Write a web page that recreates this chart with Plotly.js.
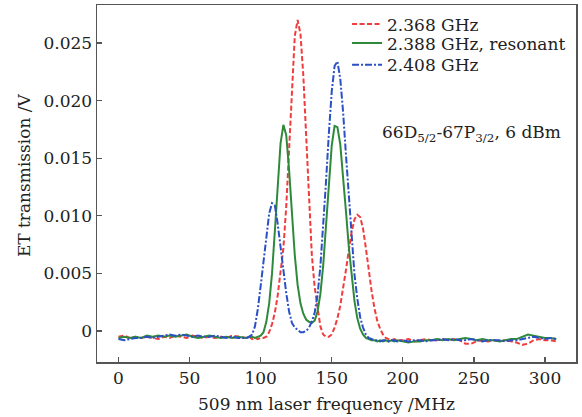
<!DOCTYPE html>
<html>
<head>
<meta charset="utf-8">
<script src="https://cdn.plot.ly/plotly-3.0.1.min.js"></script>
<style>html,body{margin:0;padding:0;background:#fff;}#chart{width:582px;height:417px;}</style>
</head>
<body>
<div id="chart"></div>
<script>
// laser frequency (MHz) sample positions
const freqMHz = [
  0,4,8,12,16,20,24,28,32,36,40,44,48,52,56,60,64,68,72,76,80,84,88,
  90,92,94,96,98,100,102,104,106,108,110,112,114,116,118,120,122,124,126,128,
  130,132,134,136,138,140,142,144,146,148,150,152,154,156,158,160,162,164,166,168,
  170,172,174,176,178,180,182,184,186,188,190,192,194,196,
  200,204,208,212,216,220,224,228,232,236,240,244,248,252,256,260,264,268,272,276,
  280,284,288,292,296,300,304,308
];

// ET transmission (V), 2.368 GHz
const red2368 = [
  -0.0005,-0.0004,-0.0006,-0.0005,-0.0006,-0.0005,-0.0006,-0.0007,-0.0005,-0.0006,-0.0004,-0.0005,-0.0006,-0.0004,-0.0005,-0.0006,-0.0005,-0.0006,-0.0005,-0.0006,-0.0004,-0.0005,-0.0006,
  -0.0006,-0.0005,-0.0007,-0.0006,-0.0007,-0.0006,-0.0006,-0.0005,-0.0001,0.0006,0.0016,0.0031,0.0050,0.0072,0.0108,0.0160,0.0215,0.0256,0.0270,0.0258,
  0.0222,0.0170,0.0112,0.0066,0.0038,0.0020,0.0004,-0.0003,-0.0005,-0.0005,-0.0003,0.0003,0.0011,0.0022,0.0036,0.0053,0.0070,0.0086,0.0097,0.0101,
  0.0099,0.0089,0.0072,0.0053,0.0035,0.0020,0.0009,0.0002,-0.0003,-0.0006,-0.0007,-0.0008,-0.0007,-0.0008,
  -0.0008,-0.0007,-0.0009,-0.0008,-0.0007,-0.0008,-0.0008,-0.0007,-0.0008,-0.0007,-0.0008,-0.0011,-0.0011,-0.0009,-0.0008,-0.0009,-0.0008,-0.0009,-0.0008,-0.0009,
  -0.0010,-0.0012,-0.0011,-0.0008,-0.0007,-0.0008,-0.0008,-0.0009
];

// ET transmission (V), 2.388 GHz, resonant
const green2388 = [
  -0.0006,-0.0005,-0.0006,-0.0005,-0.0006,-0.0004,-0.0005,-0.0004,-0.0005,-0.0004,-0.0005,-0.0004,-0.0003,-0.0005,-0.0006,-0.0005,-0.0004,-0.0005,-0.0006,-0.0005,-0.0006,-0.0005,-0.0006,
  -0.0006,-0.0005,-0.0005,-0.0006,-0.0005,-0.0004,-0.0001,0.0008,0.0024,0.0050,0.0087,0.0128,0.0163,0.0179,0.0170,0.0140,0.0100,0.0066,0.0040,0.0024,
  0.0015,0.0010,0.0008,0.0007,0.0009,0.0017,0.0032,0.0057,0.0092,0.0129,0.0161,0.0178,0.0177,0.0162,0.0136,0.0104,0.0073,0.0046,0.0026,0.0011,
  0.0002,-0.0003,-0.0006,-0.0007,-0.0008,-0.0008,-0.0009,-0.0008,-0.0009,-0.0008,-0.0009,-0.0008,-0.0009,-0.0008,
  -0.0009,-0.0010,-0.0009,-0.0009,-0.0008,-0.0008,-0.0007,-0.0008,-0.0007,-0.0008,-0.0007,-0.0006,-0.0007,-0.0008,-0.0007,-0.0008,-0.0008,-0.0009,-0.0008,-0.0007,
  -0.0007,-0.0005,-0.0003,-0.0004,-0.0005,-0.0006,-0.0006,-0.0007
];

// ET transmission (V), 2.408 GHz
const blue2408 = [
  -0.0007,-0.0008,-0.0007,-0.0006,-0.0006,-0.0005,-0.0006,-0.0005,-0.0004,-0.0003,-0.0004,-0.0003,-0.0004,-0.0005,-0.0004,-0.0005,-0.0005,-0.0004,-0.0005,-0.0006,-0.0005,-0.0006,-0.0006,
  -0.0006,-0.0005,-0.0003,0.0004,0.0019,0.0039,0.0061,0.0084,0.0102,0.0111,0.0109,0.0093,0.0072,0.0052,0.0033,0.0017,0.0007,0.0003,0.0001,-0.0001,
  -0.0001,0.0000,0.0003,0.0008,0.0016,0.0031,0.0056,0.0089,0.0130,0.0172,0.0208,0.0230,0.0234,0.0219,0.0190,0.0153,0.0115,0.0078,0.0049,0.0028,
  0.0012,0.0003,-0.0003,-0.0006,-0.0007,-0.0008,-0.0008,-0.0009,-0.0008,-0.0008,-0.0009,-0.0008,-0.0008,-0.0009,
  -0.0008,-0.0009,-0.0008,-0.0008,-0.0009,-0.0008,-0.0008,-0.0007,-0.0008,-0.0007,-0.0008,-0.0008,-0.0007,-0.0008,-0.0009,-0.0008,-0.0008,-0.0008,-0.0009,-0.0008,
  -0.0008,-0.0007,-0.0006,-0.0005,-0.0006,-0.0007,-0.0006,-0.0007
];

const seriesNames = ['2.368 GHz', '2.388 GHz, resonant', '2.408 GHz'];
const xTickVals = [0, 50, 100, 150, 200, 250, 300];
const xTickText = ['0', '50', '100', '150', '200', '250', '300'];
const yTickVals = [0, 0.005, 0.010, 0.015, 0.020, 0.025];
const yTickText = ['0', '0.005', '0.010', '0.015', '0.020', '0.025'];

const FONT = 'DejaVu Serif, serif';
const AX = '#555555';
const TXT = '#222222';

const traces = [
  {x: freqMHz, y: red2368, name: seriesNames[0], mode: 'lines', legend: 'legend',
   line: {color: '#f03c3c', width: 2, dash: '5px,2.5px'}},
  {x: freqMHz, y: green2388, name: seriesNames[1], mode: 'lines', legend: 'legend2',
   line: {color: '#2e8a3a', width: 2}},
  {x: freqMHz, y: blue2408, name: seriesNames[2], mode: 'lines', legend: 'legend3',
   line: {color: '#2b50c6', width: 2, dash: '7px,2px,2px,2px'}}
];

function legendAt(ytop) {
  return {x: 0.522, y: ytop, xanchor: 'left', yanchor: 'top',
          bgcolor: 'rgba(0,0,0,0)', borderwidth: 0,
          font: {family: FONT, size: 17, color: TXT}};
}

const layout = {
  width: 582, height: 417,
  margin: {l: 97, r: 6, t: 5, b: 55},
  paper_bgcolor: '#ffffff', plot_bgcolor: '#ffffff',
  font: {family: FONT, size: 17, color: TXT},
  showlegend: true,
  legend: legendAt(0.9958),
  legend2: legendAt(0.9426),
  legend3: legendAt(0.8816),
  xaxis: {range: [-15.1, 321.8], tickvals: xTickVals, ticktext: xTickText,
          ticks: 'inside', ticklen: 5, tickwidth: 1.2, tickcolor: AX,
          showline: true, linecolor: AX, linewidth: 1.5, mirror: true,
          showgrid: false, zeroline: false,
          tickfont: {family: FONT, size: 17, color: TXT}},
  yaxis: {range: [-0.00269, 0.0283], tickvals: yTickVals, ticktext: yTickText,
          ticks: 'inside', ticklen: 5, tickwidth: 1.2, tickcolor: AX,
          showline: true, linecolor: AX, linewidth: 1.5, mirror: true,
          showgrid: false, zeroline: false,
          tickfont: {family: FONT, size: 17, color: TXT}},
  annotations: [
    {text: '509 nm laser frequency /MHz', xref: 'paper', yref: 'paper',
     x: 0.479, y: -0.118, xanchor: 'center', yanchor: 'middle', showarrow: false,
     font: {family: FONT, size: 17, color: TXT}},
    {text: 'ET transmission /V', xref: 'paper', yref: 'paper', textangle: -90,
     x: -0.152, y: 0.524, xanchor: 'center', yanchor: 'middle', showarrow: false,
     font: {family: FONT, size: 17, color: TXT}},
    {text: '66D<sub>5/2</sub>-67P<sub>3/2</sub>, 6 dBm', xref: 'paper', yref: 'paper',
     x: 0.59, y: 0.641, xanchor: 'left', yanchor: 'middle', showarrow: false,
     font: {family: FONT, size: 17, color: TXT}}
  ]
};

Plotly.newPlot('chart', traces, layout, {staticPlot: true, displayModeBar: false});
</script>
</body>
</html>
